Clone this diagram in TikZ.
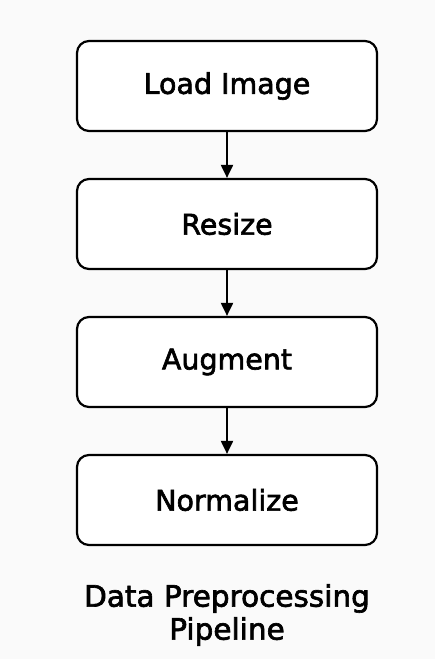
\documentclass[tikz,border=0pt]{standalone}
\usepackage{fontspec}
\setmainfont{DejaVu Sans}
\newfontfamily\stagefont[FakeBold=2.2]{DejaVu Sans}
\usetikzlibrary{arrows.meta}
\begin{document}
\begin{tikzpicture}[x=1pt,y=-1pt,
  stage/.style={draw=black,line width=2.2pt,rounded corners=12pt,fill=white,
    minimum width=300pt,minimum height=90pt,inner sep=0pt,
    font=\stagefont\fontsize{28.5}{32}\selectfont},
  flow/.style={line width=2pt,-{Triangle[length=13pt,width=12pt]}},
  caption/.style={align=center,font=\stagefont\fontsize{29.5}{33}\selectfont}]
\fill[black!2] (0,0) rectangle (435,659);
\useasboundingbox (0,0) rectangle (435,659);
\node[stage] (load) at (227,86) {Load Image};
\node[stage] (resize) at (227,224) {Resize};
\node[stage] (augment) at (227,362) {Augment};
\node[stage] (norm) at (227,500) {Normalize};
\draw[flow] (load) -- (resize);
\draw[flow] (resize) -- (augment);
\draw[flow] (augment) -- (norm);
\node[caption] (title) at (227,615) {Data Preprocessing\\Pipeline};
\end{tikzpicture}
\end{document}
